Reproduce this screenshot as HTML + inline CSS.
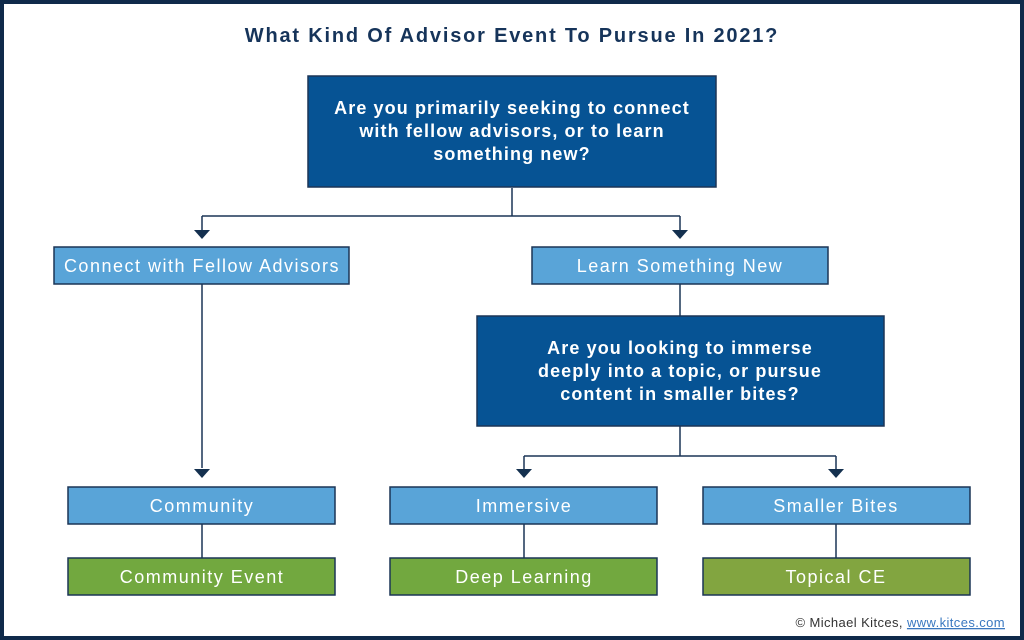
<!DOCTYPE html>
<html><head><meta charset="utf-8"><style>
html,body{margin:0;padding:0;background:#fff;}
svg{display:block;}
text{font-family:"Liberation Sans","DejaVu Sans",sans-serif;}
</style></head><body>
<svg width="1024" height="640" viewBox="0 0 1024 640" xmlns="http://www.w3.org/2000/svg">
<rect x="2" y="2" width="1020" height="636" fill="#fff" stroke="#0f2a4a" stroke-width="4"/>
<text x="512" y="42" text-anchor="middle" font-size="20" font-weight="bold" fill="#16345a" letter-spacing="1.8">What Kind Of Advisor Event To Pursue In 2021?</text>

<g stroke="#1b3556" stroke-width="1.5" fill="none">
<path d="M512 188 V216 M202 216 H680 M202 216 V232 M680 216 V232"/>
<path d="M202 284 V468"/>
<path d="M680 284 V316"/>
<path d="M680 426 V456 M524 456 H836 M524 456 V470 M836 456 V470"/>
<path d="M202 524 V558 M524 524 V558 M836 524 V558"/>
</g>
<g fill="#14304f">
<path d="M194 230 H210 L202 239 Z"/>
<path d="M672 230 H688 L680 239 Z"/>
<path d="M194 469 H210 L202 478 Z"/>
<path d="M516 469 H532 L524 478 Z"/>
<path d="M828 469 H844 L836 478 Z"/>
</g>

<g stroke="#1b3556" stroke-width="1.5">
<rect x="308" y="76" width="408" height="111" fill="#065394"/>
<rect x="477" y="316" width="407" height="110" fill="#065394"/>
<rect x="54" y="247" width="295" height="37" fill="#59a4d8"/>
<rect x="532" y="247" width="296" height="37" fill="#59a4d8"/>
<rect x="68" y="487" width="267" height="37" fill="#59a4d8"/>
<rect x="390" y="487" width="267" height="37" fill="#59a4d8"/>
<rect x="703" y="487" width="267" height="37" fill="#59a4d8"/>
<rect x="68" y="558" width="267" height="37" fill="#72a83f"/>
<rect x="390" y="558" width="267" height="37" fill="#72a83f"/>
<rect x="703" y="558" width="267" height="37" fill="#82a540"/>
</g>

<g fill="#fff" font-weight="bold" font-size="18" text-anchor="middle" letter-spacing="1.1">
<text x="512" y="114">Are you primarily seeking to connect</text>
<text x="512" y="137">with fellow advisors, or to learn</text>
<text x="512" y="160">something new?</text>
<text x="680" y="354">Are you looking to immerse</text>
<text x="680" y="377">deeply into a topic, or pursue</text>
<text x="680" y="400">content in smaller bites?</text>
</g>
<g fill="#fff" font-size="18" text-anchor="middle" letter-spacing="1.5">
<text x="202" y="272">Connect with Fellow Advisors</text>
<text x="680" y="272">Learn Something New</text>
<text x="202" y="512">Community</text>
<text x="524" y="512">Immersive</text>
<text x="836" y="512">Smaller Bites</text>
<text x="202" y="583">Community Event</text>
<text x="524" y="583">Deep Learning</text>
<text x="836" y="583">Topical CE</text>
</g>
<text x="1005" y="627" text-anchor="end" font-size="13" fill="#333" letter-spacing="0.4">© Michael Kitces, <tspan fill="#3a78c0" text-decoration="underline">www.kitces.com</tspan></text>
</svg>
</body></html>
